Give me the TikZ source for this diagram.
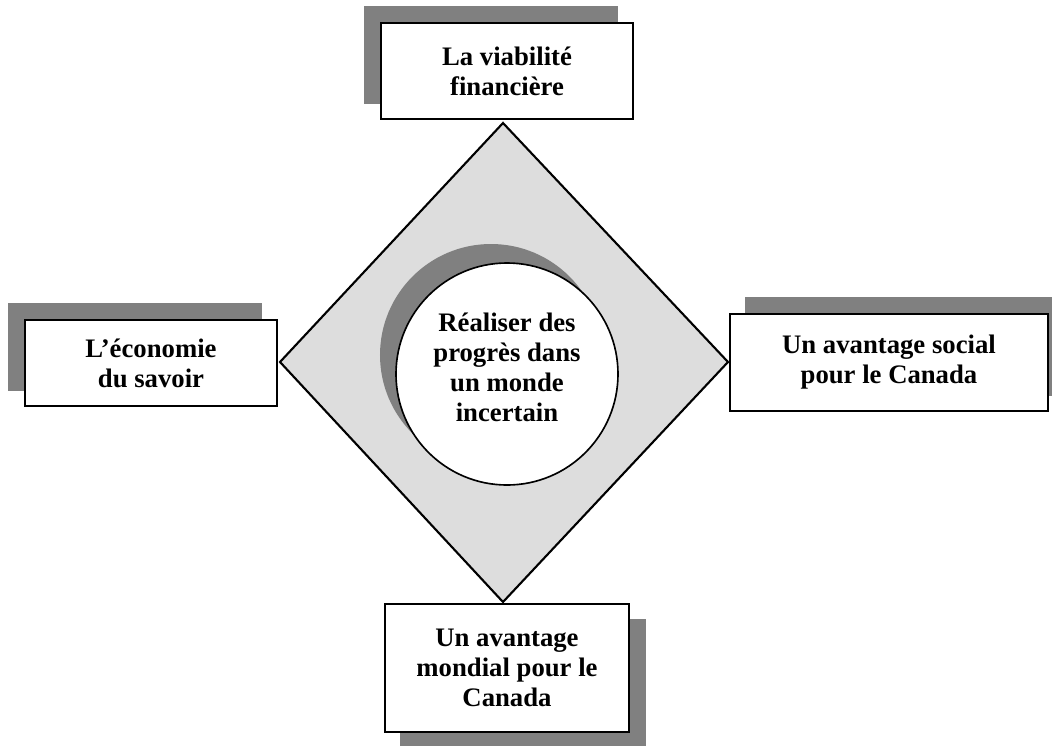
\documentclass[tikz,border=0pt]{standalone}
\usepackage{fontspec}
\setmainfont{Liberation Serif}
\usetikzlibrary{backgrounds}
\definecolor{shadowgray}{HTML}{808080}
\definecolor{diamondgray}{HTML}{DDDDDD}
\begin{document}
\begin{tikzpicture}[x=0.015cm,y=-0.015cm,
    box/.style={draw,line width=0.9pt,fill=white,align=center,inner sep=0pt,
        font=\bfseries\fontsize{11.4}{12.8}\selectfont},
    boxshadow/.style={fill=shadowgray}]
    \def\s{16}
    \useasboundingbox (0,0) rectangle (1052,745);
    % the four boxes
    \node[box,minimum width=3.78cm,minimum height=1.44cm] (finance) at (507,71) {La viabilité\\financière};
    \node[box,minimum width=3.78cm,minimum height=1.29cm] (savoir) at (151,363) {L’économie\\du savoir};
    \node[box,minimum width=4.77cm,minimum height=1.455cm] (social) at (889,362.5) {Un avantage social\\pour le Canada};
    \node[box,minimum width=3.66cm,minimum height=1.92cm] (mondial) at (507,668) {Un avantage\\mondial pour le\\Canada};
    % centre
    \node[circle,draw,line width=0.7pt,fill=white,minimum size=3.33cm] (goal) at (507,374) {};
    \node[align=center,font=\bfseries\fontsize{11.4}{12.8}\selectfont] (goaltext) at (507,367) {Réaliser des\\progrès dans\\un monde\\incertain};
    \coordinate (dn) at (503,123);
    \coordinate (ds) at (503,602);
    \coordinate (dw) at (280,362);
    \coordinate (de) at (728,362);
    \begin{scope}[on background layer]
        \clip (0,0) rectangle (1052,745);
        \fill[boxshadow] ([shift={(-\s,-\s)}]finance.north west) rectangle ([shift={(-\s,-\s)}]finance.south east);
        \fill[boxshadow] ([shift={(-\s,-\s)}]savoir.north west) rectangle ([shift={(-\s,-\s)}]savoir.south east);
        \fill[boxshadow] ([shift={(\s,-\s)}]social.north west) rectangle ([shift={(\s,-\s)}]social.south east);
        \fill[boxshadow] ([shift={(\s,\s)}]mondial.north west) rectangle ([shift={(\s,\s)}]mondial.south east);
        \draw[line width=0.9pt,fill=diamondgray] (dn) -- (de) -- (ds) -- (dw) -- cycle;
        \fill[shadowgray] (491,355) circle[radius=1.665cm];
    \end{scope}
\end{tikzpicture}
\end{document}
